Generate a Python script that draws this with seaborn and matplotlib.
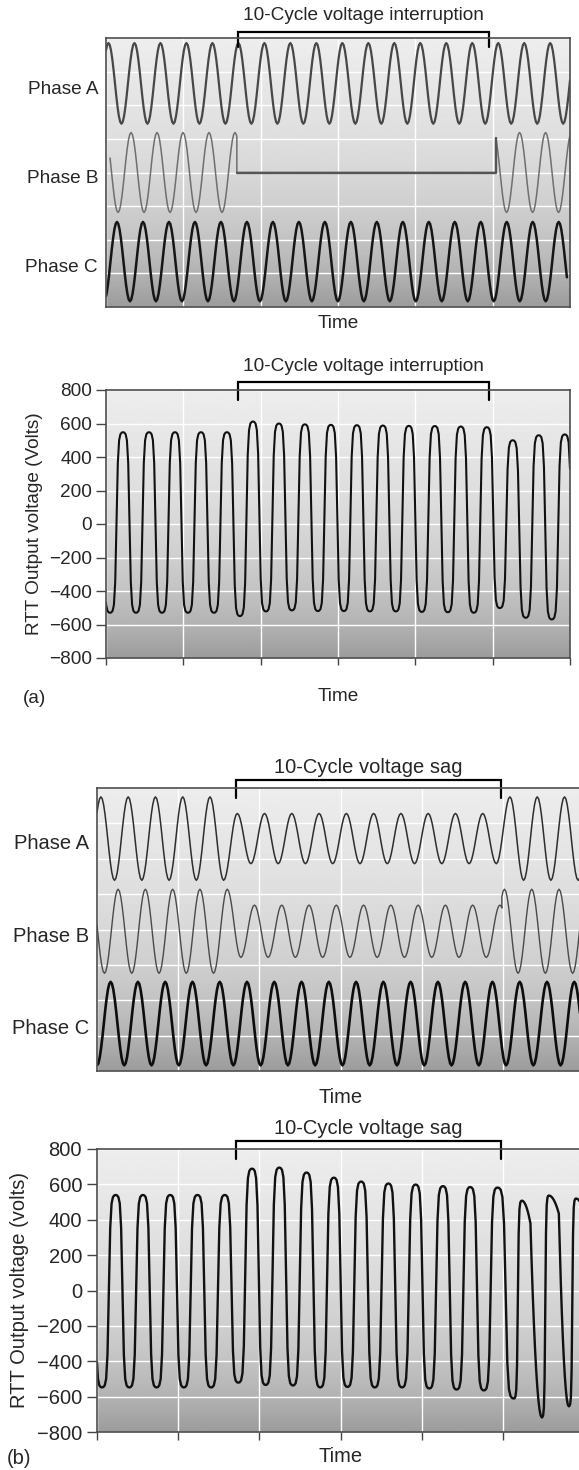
import numpy as np
import matplotlib
matplotlib.use("Agg")
import matplotlib.pyplot as plt
import matplotlib.transforms as mtransforms
import seaborn as sns

# ---- values ----------------------------------------------------------------
PERIOD = 16.8                      # ms per cycle (peak spacing)
TIME_GRID = [0, 50, 100, 150, 200, 250, 300]
VOLT_TICKS = [-800, -600, -400, -200, 0, 200, 400, 600, 800]
PHASE_GRID = [0, 1, 2, 3, 4, 5, 6, 7, 8]
PHASE_NAMES = ["Phase A", "Phase B", "Phase C"]

# one half cycle, fraction of the way from one key point to the next
STEPS = [0.0, 0.1, 0.2, 0.3, 0.4, 0.5, 0.6, 0.7, 0.8, 0.9, 1.0]
SHAPES = {
    "sine": [0.0, 0.024, 0.095, 0.206, 0.345, 0.5, 0.655, 0.794, 0.905, 0.976, 1.0],
    "rtt": [0.0, 0.002, 0.011, 0.044, 0.171, 0.5, 0.829, 0.956, 0.989, 0.998, 1.0],
    "in": [0.0, 0.01, 0.04, 0.09, 0.16, 0.25, 0.36, 0.49, 0.64, 0.81, 1.0],
    "out": [0.0, 0.19, 0.36, 0.51, 0.64, 0.75, 0.84, 0.91, 0.96, 0.99, 1.0],
}

# (a) 10-cycle interruption, phase traces (grid units 0..8)
A_CENTER = [6.65, 4.0, 1.35]
A_AMP = [1.2, 1.19, 1.18]
A_FIRST_PEAK = [-15.2, -17.4, -9.7]
A_B_OFF = [84.6, 252.0]            # phase B dead between these times
A_B_RESTART_PEAK = 233.8
A_B_START, A_C_END = 2.6, 298.0
A_BRACKET = [85.4, 247.6]

# (a) RTT output voltage, volts
RTT_A_FIRST_PEAK = -5.8
RTT_A_PEAKS = [548, 548, 548, 548, 548, 548, 612, 600, 595, 592,
               590, 588, 586, 585, 582, 578, 500, 530, 535]
RTT_A_TROUGHS = [-530, -530, -530, -530, -530, -550, -522, -516, -520, -520,
                 -522, -522, -525, -527, -530, -502, -560, -570, -565]

# (b) 10-cycle sag, phase traces
B_CENTER = [6.57, 3.95, 1.34]
B_FIRST_PEAK = [-14.4, -3.8, -8.4]
B_A_AMP = [1.18, 1.18, 1.18, 1.18, 1.18, 1.18, 0.71, 0.71, 0.71, 0.71,
           0.71, 0.71, 0.71, 0.71, 0.71, 0.71, 1.18, 1.18, 1.18, 1.18]
B_B_PEAK_AMP = [1.19, 1.19, 1.19, 1.19, 1.19, 1.19, 0.74, 0.74,
                0.74, 0.74, 0.74, 0.74, 0.74, 0.74, 0.74, 0.74]
B_B_TROUGH_AMP = [1.19, 1.19, 1.19, 1.19, 1.19, 0.74, 0.74, 0.74,
                  0.74, 0.74, 0.74, 0.74, 0.74, 0.74, 0.74, 0.74]
B_B_JUMP = 249.4
B_B_RESTART_PEAK = 234.2
B_B_AMP, B_C_AMP = 1.19, 1.18
B_BRACKET = [85.6, 248.8]

# (b) RTT output voltage, volts
RTT_B_FIRST_PEAK = -5.3
RTT_B_PEAKS = [540, 540, 540, 540, 540, 540, 689, 695, 667, 638,
               616, 605, 599, 590, 585, 582]
RTT_B_TROUGHS = [-548, -548, -548, -548, -548, -521, -534, -537,
                 -548, -545, -548, -548, -554, -560, -565]
# distorted cycles after the sag: key points and the curve shape into each
RTT_B_POST_T = [256.8, 261.7, 267.0, 274.0, 278.3, 284.5, 290.6, 295.0, 301.0]
RTT_B_POST_V = [-611, 508, 380, -718, 537, 435, -655, 520, 420]
RTT_B_POST_SHAPE = ["rtt", "rtt", "in", "out", "rtt", "in", "out", "rtt", "in"]


def extrema(first_peak, peaks, troughs):
    vals = []
    for p, q in zip(peaks, troughs):
        vals += [p, q]
    if len(peaks) > len(troughs):
        vals.append(peaks[-1])
    times = first_peak + 0.5 * PERIOD * np.arange(len(vals))
    return times, np.array(vals, dtype=float)


def trace(times, vals, shapes, t_from=0.0, t_to=300.0):
    if isinstance(shapes, str):
        shapes = [shapes] * (len(times) - 1)
    ts, vs = [times[0]], [vals[0]]
    for t0, t1, v0, v1, name in zip(times[:-1], times[1:], vals[:-1], vals[1:], shapes):
        ts += [t0 + f * (t1 - t0) for f in STEPS[1:]]
        vs += [v0 + g * (v1 - v0) for g in SHAPES[name][1:]]
    ts, vs = np.array(ts), np.array(vs)
    inner = (ts > t_from) & (ts < t_to)
    return (np.r_[t_from, ts[inner], t_to],
            np.r_[np.interp(t_from, ts, vs), vs[inner], np.interp(t_to, ts, vs)])


def phase(center, first_peak, peak_amp, trough_amp=None, n=20, **kw):
    if np.ndim(peak_amp) == 0:
        peak_amp = np.full(n, peak_amp)
    peak_amp = np.asarray(peak_amp, float)
    trough_amp = peak_amp if trough_amp is None else np.asarray(trough_amp, float)
    t, v = extrema(first_peak, center + peak_amp, center - trough_amp)
    return trace(t, v, "sine", **kw)


def line(ax, t, v, color, lw):
    sns.lineplot(x=t, y=v, ax=ax, color=color, linewidth=lw, sort=False, estimator=None)


def backdrop(ax, y0, y1):
    s = np.linspace(0, 1, 300)[:, None]
    gray = 0.93 - 0.15 * s - 0.17 * s ** 4
    ax.imshow(gray, cmap="gray", vmin=0, vmax=1, aspect="auto", origin="upper",
              extent=(0, 300, y0, y1), zorder=0, interpolation="bilinear")


def frame(ax, yticks, ylim):
    ax.set_xlim(0, 300)
    ax.set_ylim(*ylim)
    ax.set_xticks(TIME_GRID)
    ax.set_yticks(yticks)
    ax.set_axisbelow(True)
    ax.grid(True, color="white", linewidth=1.0)
    for sp in ax.spines.values():
        sp.set_visible(True)
        sp.set_color("#4d4d4d")
        sp.set_linewidth(1.2)


def bracket(ax, span, y_bar, y_end, y_text, label, size):
    tr = mtransforms.blended_transform_factory(ax.transData, ax.transAxes)
    t0, t1 = span
    ax.plot([t0, t0, t1, t1], [y_end, y_bar, y_bar, y_end], transform=tr,
            color="black", lw=1.6, clip_on=False, solid_joinstyle="miter")
    ax.text((t0 + t1) / 2, y_text, label, transform=tr, ha="center",
            va="center", fontsize=size)


def time_label(ax, y, size):
    ax.set_xlabel("Time", fontsize=size)
    ax.xaxis.label.set_va("center")
    ax.xaxis.set_label_coords(0.5, y)


sns.set_style("white")
plt.rcParams["font.family"] = ["Liberation Sans", "DejaVu Sans"]

W, H = 579, 1470
fig = plt.figure(figsize=(W / 100, H / 100), dpi=100)


def box(l, r, t, b):
    return fig.add_axes([l / W, 1 - b / H, (r - l) / W, (b - t) / H])


FS_A, FS_B = 13.7, 14.5

# ---- panel (a) phases -------------------------------------------------------
ax1 = box(106, 570, 38, 307)
backdrop(ax1, 0, 8)
tA, vA = phase(A_CENTER[0], A_FIRST_PEAK[0], A_AMP[0])
line(ax1, tA, vA, "#474747", 1.6)
t1, v1 = phase(A_CENTER[1], A_FIRST_PEAK[1], A_AMP[1], t_from=A_B_START, t_to=A_B_OFF[0])
t2, v2 = phase(A_CENTER[1], A_B_RESTART_PEAK, A_AMP[1], n=5, t_from=A_B_OFF[1])
line(ax1, np.r_[t1, A_B_OFF[0], A_B_OFF[1], t2],
     np.r_[v1, A_CENTER[1], A_CENTER[1], v2], "#6f6f6f", 1.1)
line(ax1, np.r_[A_B_OFF[0], A_B_OFF[1], A_B_OFF[1]],
     np.r_[A_CENTER[1], A_CENTER[1], v2[0]], "#555555", 1.7)
tC, vC = phase(A_CENTER[2], A_FIRST_PEAK[2], A_AMP[2], t_to=A_C_END)
line(ax1, tC, vC, "#161616", 1.8)
frame(ax1, PHASE_GRID, (0, 8))
ax1.tick_params(length=0, labelbottom=False, labelleft=False)
ax1.set_ylabel("")
tr1 = mtransforms.blended_transform_factory(ax1.transAxes, ax1.transData)
for name, c in zip(PHASE_NAMES, A_CENTER):
    ax1.text(-0.017, c - 0.18, name, transform=tr1, ha="right", va="center", fontsize=FS_A)
time_label(ax1, -0.06, FS_A)
bracket(ax1, A_BRACKET, 1.022, 0.965, 1.082, "10-Cycle voltage interruption", FS_A)

# ---- panel (a) RTT output ---------------------------------------------------
ax2 = box(106, 570, 390, 658)
backdrop(ax2, -800, 800)
t, v = extrema(RTT_A_FIRST_PEAK, RTT_A_PEAKS, RTT_A_TROUGHS)
tt, vv = trace(t, v, "rtt")
line(ax2, tt, vv, "#111111", 1.5)
frame(ax2, VOLT_TICKS, (-800, 800))
ax2.tick_params(axis="both", direction="out", color="#444444", width=1.0,
                labelsize=FS_A, bottom=True, left=True, labelbottom=False)
ax2.tick_params(axis="y", length=7.2, pad=2.9)
ax2.tick_params(axis="x", length=5.0)
ax2.set_ylabel("RTT Output voltage (Volts)", fontsize=FS_A)
ax2.yaxis.label.set_va("center")
ax2.yaxis.set_label_coords(-0.155, 0.5)
time_label(ax2, -0.145, FS_A)
bracket(ax2, A_BRACKET, 1.030, 0.963, 1.086, "10-Cycle voltage interruption", FS_A)
fig.text(34 / W, 1 - 699 / H, "(a)", ha="center", va="center", fontsize=FS_A)

# ---- panel (b) phases -------------------------------------------------------
ax3 = box(97, 584, 788, 1071)
backdrop(ax3, 0, 8)
tA, vA = phase(B_CENTER[0], B_FIRST_PEAK[0], B_A_AMP)
line(ax3, tA, vA, "#2e2e2e", 1.1)
t1, v1 = phase(B_CENTER[1], B_FIRST_PEAK[1], B_B_PEAK_AMP, B_B_TROUGH_AMP, t_to=B_B_JUMP)
t2, v2 = phase(B_CENTER[1], B_B_RESTART_PEAK, B_B_AMP, n=5, t_from=B_B_JUMP)
line(ax3, np.r_[t1, t2], np.r_[v1, v2], "#4a4a4a", 1.0)
tC, vC = phase(B_CENTER[2], B_FIRST_PEAK[2], B_C_AMP)
line(ax3, tC, vC, "#0d0d0d", 1.9)
frame(ax3, PHASE_GRID, (0, 8))
ax3.tick_params(length=0, labelbottom=False, labelleft=False)
ax3.set_ylabel("")
tr3 = mtransforms.blended_transform_factory(ax3.transAxes, ax3.transData)
for name, c in zip(PHASE_NAMES, B_CENTER):
    ax3.text(-0.0165, c - 0.15, name, transform=tr3, ha="right", va="center", fontsize=FS_B)
time_label(ax3, -0.092, FS_B)
bracket(ax3, B_BRACKET, 1.028, 0.965, 1.071, "10-Cycle voltage sag", FS_B)

# ---- panel (b) RTT output ---------------------------------------------------
ax4 = box(97, 584, 1149, 1432)
backdrop(ax4, -800, 800)
t, v = extrema(RTT_B_FIRST_PEAK, RTT_B_PEAKS, RTT_B_TROUGHS)
seg = ["rtt"] * (len(t) - 1) + RTT_B_POST_SHAPE
t = np.r_[t, RTT_B_POST_T]
v = np.r_[v, RTT_B_POST_V]
tt, vv = trace(t, v, seg)
line(ax4, tt, vv, "#111111", 1.7)
frame(ax4, VOLT_TICKS, (-800, 800))
ax4.tick_params(axis="both", direction="out", color="#444444", width=1.0,
                labelsize=FS_B, bottom=True, left=True, labelbottom=False)
ax4.tick_params(axis="y", length=7.2, pad=3.6)
ax4.tick_params(axis="x", length=5.8)
ax4.set_ylabel("RTT Output voltage (volts)", fontsize=FS_B)
ax4.yaxis.label.set_va("center")
ax4.yaxis.set_label_coords(-0.159, 0.5)
time_label(ax4, -0.088, FS_B)
bracket(ax4, B_BRACKET, 1.028, 0.965, 1.074, "10-Cycle voltage sag", FS_B)
fig.text(19.5 / W, 1 - 1458 / H, "(b)", ha="center", va="center", fontsize=FS_B)

fig.savefig("out.png", dpi=100)
